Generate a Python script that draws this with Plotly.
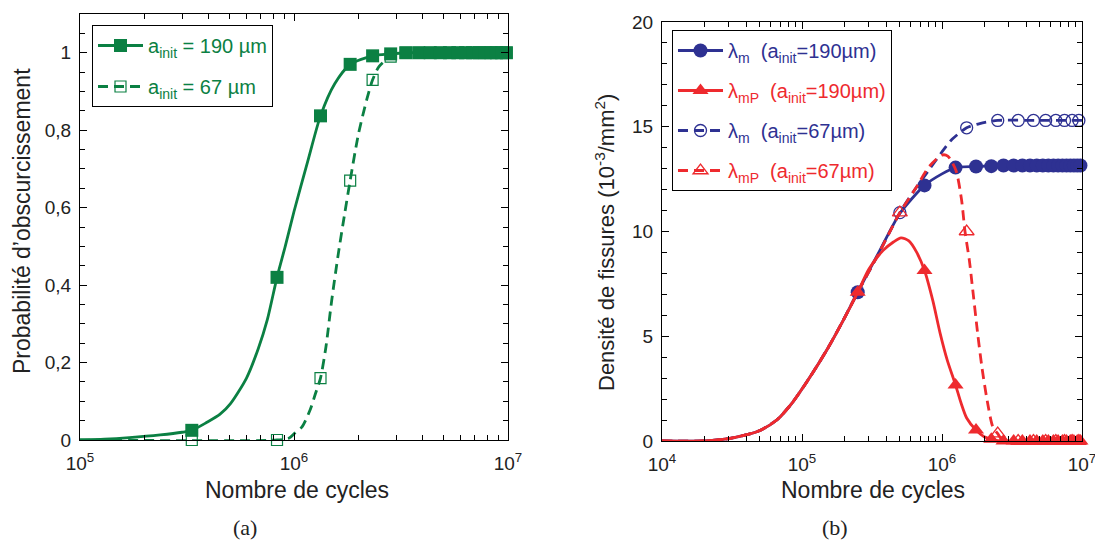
import plotly.graph_objects as go

GREEN = "#0b8043"
BLUE = "#2e3192"
RED = "#ee2a2e"

# ---------------- Panel (a) data ----------------
a_x_190 = [1.0e5, 1.3e5, 1.7e5, 2.37e5, 3.0e5, 3.33e5, 3.9e5, 4.5e5, 5.05e5, 6.0e5, 6.8e5, 7.5e5,
           8.33e5, 9.1e5, 1.0e6, 1.16e6, 1.33e6, 1.55e6, 1.83e6, 2.33e6, 2.83e6, 3.33e6, 5.0e6, 1.0e7]
a_y_190 = [0.0, 0.002, 0.006, 0.013, 0.02, 0.025, 0.045, 0.066, 0.094, 0.16, 0.235, 0.31,
           0.42, 0.50, 0.59, 0.72, 0.837, 0.92, 0.97, 0.992, 0.997, 1.0, 1.0, 1.0]

a_x_67 = [1.0e5, 8.33e5, 9.5e5, 1.01e6, 1.09e6, 1.19e6, 1.26e6, 1.33e6, 1.41e6, 1.5e6, 1.61e6,
          1.72e6, 1.83e6, 2.0e6, 2.19e6, 2.33e6, 2.5e6, 2.83e6, 3.33e6, 5.0e6, 1.0e7]
a_y_67 = [0.0, 0.0, 0.005, 0.018, 0.034, 0.078, 0.12, 0.16, 0.24, 0.36, 0.48,
          0.58, 0.67, 0.79, 0.88, 0.93, 0.965, 0.99, 1.0, 1.0, 1.0]

a_mk_x = [3.33e5, 8.33e5, 1.33e6, 1.83e6, 2.33e6, 2.83e6, 3.33e6, 3.83e6, 4.33e6, 4.83e6,
          5.33e6, 5.83e6, 6.33e6, 6.83e6, 7.33e6, 7.83e6, 8.33e6, 8.83e6, 9.33e6, 9.83e6]
a_mk_190 = [0.025, 0.42, 0.837, 0.97, 0.992, 0.997, 1.0, 1.0, 1.0, 1.0,
            1.0, 1.0, 1.0, 1.0, 1.0, 1.0, 1.0, 1.0, 1.0, 1.0]
a_mk_67 = [0.0, 0.0, 0.16, 0.67, 0.93, 0.99, 1.0, 1.0, 1.0, 1.0,
           1.0, 1.0, 1.0, 1.0, 1.0, 1.0, 1.0, 1.0, 1.0, 1.0]

# ---------------- Panel (b) data ----------------
b_x_m190 = [1e4, 2e4, 2.9e4, 4.05e4, 5e4, 6.6e4, 8.6e4, 1.14e5, 1.5e5, 1.97e5, 2.5e5, 3.6e5,
            5e5, 7.5e5, 1.0e6, 1.25e6, 1.75e6, 2.5e6, 5e6, 1e7]
b_y_m190 = [0, 0, 0.1, 0.3, 0.5, 1.0, 1.86, 3.05, 4.33, 5.76, 7.1, 9.1,
            10.86, 12.2, 12.75, 13.05, 13.1, 13.15, 13.15, 13.15]

b_x_mP190 = [1e4, 2e4, 2.9e4, 4.05e4, 5e4, 6.6e4, 8.6e4, 1.14e5, 1.5e5, 1.97e5, 2.5e5, 3.0e5,
             3.8e5, 4.5e5, 5.1e5, 5.8e5, 6.6e5, 7.5e5, 8.6e5, 9.7e5, 1.09e6, 1.25e6, 1.37e6,
             1.5e6, 1.75e6, 2.0e6, 2.25e6, 2.6e6, 5e6, 1e7]
b_y_mP190 = [0, 0, 0.1, 0.3, 0.5, 1.0, 1.86, 3.05, 4.33, 5.76, 7.1, 8.2,
             9.1, 9.5, 9.7, 9.55, 9.0, 8.14, 6.7, 5.14, 3.86, 2.67, 1.8,
             1.1, 0.52, 0.2, 0.08, 0, 0, 0]

b_x_m67 = [1e4, 2e4, 2.9e4, 4.05e4, 5e4, 6.6e4, 8.6e4, 1.14e5, 1.5e5, 1.97e5, 2.5e5, 3.5e5,
           5e5, 6.4e5, 8e5, 1.0e6, 1.18e6, 1.5e6, 1.86e6, 2.5e6, 5e6, 1e7]
b_y_m67 = [0, 0, 0.1, 0.3, 0.5, 1.0, 1.86, 3.05, 4.33, 5.76, 7.1, 8.9,
           10.9, 12.0, 12.9, 13.8, 14.4, 14.95, 15.15, 15.3, 15.3, 15.3]

b_x_mP67 = [1e4, 2e4, 2.9e4, 4.05e4, 5e4, 6.6e4, 8.6e4, 1.14e5, 1.5e5, 1.97e5, 2.5e5, 3.5e5,
            5e5, 6.4e5, 8.1e5, 1.0e6, 1.1e6, 1.26e6, 1.38e6, 1.46e6, 1.57e6, 1.64e6, 1.8e6,
            1.93e6, 2.1e6, 2.3e6, 2.5e6, 2.75e6, 5e6, 1e7]
b_y_mP67 = [0, 0, 0.1, 0.3, 0.5, 1.0, 1.86, 3.05, 4.33, 5.76, 7.1, 8.9,
            10.9, 12.0, 13.1, 13.65, 13.6, 12.9, 11.5, 10.0, 8.6, 7.5, 5.1,
            3.5, 1.95, 0.7, 0.35, 0, 0, 0]

b_mk_x190 = [2.5e5, 7.5e5, 1.25e6, 1.75e6, 2.25e6, 2.75e6, 3.25e6, 3.75e6, 4.25e6, 4.75e6,
             5.25e6, 5.75e6, 6.25e6, 6.75e6, 7.25e6, 7.75e6, 8.25e6, 8.75e6, 9.25e6, 9.75e6]
b_mk_m190 = [7.1, 12.2, 13.05, 13.1, 13.12, 13.15, 13.15, 13.15, 13.15, 13.15,
             13.15, 13.15, 13.15, 13.15, 13.15, 13.15, 13.15, 13.15, 13.15, 13.15]
b_mk_mP190 = [7.1, 8.14, 2.67, 0.52, 0.08, 0, 0, 0, 0, 0,
              0, 0, 0, 0, 0, 0, 0, 0, 0, 0]
b_mk_x67 = [5e5, 1.5e6, 2.5e6, 3.5e6, 4.5e6, 5.5e6, 6.5e6, 7.5e6, 8.5e6, 9.5e6]
b_mk_m67 = [10.9, 14.95, 15.3, 15.3, 15.3, 15.3, 15.3, 15.3, 15.3, 15.3]
b_mk_mP67 = [10.9, 10.0, 0.35, 0, 0, 0, 0, 0, 0, 0]

a_xticks = [1e5, 1e6, 1e7]
a_xtext = ["10<sup>5</sup>", "10<sup>6</sup>", "10<sup>7</sup>"]
a_yticks = [0, 0.2, 0.4, 0.6, 0.8, 1.0]
a_ytext = ["0", "0,2", "0,4", "0,6", "0,8", "1"]
b_xticks = [1e4, 1e5, 1e6, 1e7]
b_xtext = ["10<sup>4</sup>", "10<sup>5</sup>", "10<sup>6</sup>", "10<sup>7</sup>"]
b_yticks = [0, 5, 10, 15, 20]

W, H = 1095, 546
FONT = "Arial, Liberation Sans, Helvetica, sans-serif"
SERIF = "Times New Roman, Liberation Serif, serif"

def px_x(p):
    return p / W

def px_y(p):
    return 1 - p / H

fig = go.Figure()

DASH = "10px,6px"
LW = 2.8

def line(x, y, color, dash, xa, ya):
    fig.add_trace(go.Scatter(x=x, y=y, mode="lines", xaxis=xa, yaxis=ya, showlegend=False,
                             line=dict(color=color, width=LW, dash=dash,
                                       shape="spline", smoothing=0.7),
                             hoverinfo="skip"))

def marks(x, y, color, symbol, size, xa, ya, lw=1.2):
    fig.add_trace(go.Scatter(x=x, y=y, mode="markers", xaxis=xa, yaxis=ya, showlegend=False,
                             cliponaxis=False, hoverinfo="skip",
                             marker=dict(color=color, symbol=symbol, size=size,
                                         line=dict(color=color, width=lw))))

def legend_entry(name, color, dash, symbol, size, legend, group, lw=1.2):
    fig.add_trace(go.Scatter(x=[None], y=[None], mode="lines+markers", name=name,
                             legend=legend, legendgroup=group,
                             line=dict(color=color, width=LW, dash=dash),
                             marker=dict(color=color, symbol=symbol, size=size,
                                         line=dict(color=color, width=lw))))

# Panel (a)
line(a_x_67, a_y_67, GREEN, DASH, "x", "y")
marks(a_mk_x, a_mk_67, GREEN, "square-open", 11, "x", "y", 1.2)
line(a_x_190, a_y_190, GREEN, "solid", "x", "y")
marks(a_mk_x, a_mk_190, GREEN, "square", 13, "x", "y", 0)

# Panel (b)
line(b_x_m67, b_y_m67, BLUE, DASH, "x2", "y2")
marks(b_mk_x67, b_mk_m67, BLUE, "circle-open", 12, "x2", "y2", 1.3)
line(b_x_m190, b_y_m190, BLUE, "solid", "x2", "y2")
marks(b_mk_x190, b_mk_m190, BLUE, "circle", 14, "x2", "y2", 0)
line(b_x_mP67, b_y_mP67, RED, DASH, "x2", "y2")
marks(b_mk_x67, b_mk_mP67, RED, "triangle-up-open", 13, "x2", "y2", 1.3)
line(b_x_mP190, b_y_mP190, RED, "solid", "x2", "y2")
marks(b_mk_x190, b_mk_mP190, RED, "triangle-up", 14, "x2", "y2", 0)

# Legends
legend_entry("a<sub>init</sub> = 190 µm", GREEN, "solid", "square", 13, "legend", "g1", 0)
legend_entry("a<sub>init</sub> = 67 µm", GREEN, DASH, "square-open", 11, "legend", "g2")
legend_entry("<span style='color:%s'>λ<sub>m</sub>  (a<sub>init</sub>=190µm)</span>" % BLUE,
             BLUE, "solid", "circle", 14, "legend2", "b1", 0)
legend_entry("<span style='color:%s'>λ<sub>mP</sub>  (a<sub>init</sub>=190µm)</span>" % RED,
             RED, "solid", "triangle-up", 14, "legend2", "b2", 0)
legend_entry("<span style='color:%s'>λ<sub>m</sub>  (a<sub>init</sub>=67µm)</span>" % BLUE,
             BLUE, DASH, "circle-open", 12, "legend2", "b3", 1.3)
legend_entry("<span style='color:%s'>λ<sub>mP</sub>  (a<sub>init</sub>=67µm)</span>" % RED,
             RED, DASH, "triangle-up-open", 13, "legend2", "b4", 1.3)

axis_common = dict(showline=True, linecolor="black", linewidth=1, mirror="allticks",
                   ticks="inside", ticklen=7, tickcolor="black", showgrid=False, zeroline=False,
                   automargin=False, ticklabeloverflow="allow",
                   tickfont=dict(family=FONT, size=19, color="#222"))

a_minor_x = [2e5, 3e5, 4e5, 5e5, 6e5, 7e5, 8e5, 9e5, 2e6, 3e6, 4e6, 5e6, 6e6, 7e6, 8e6, 9e6]
b_minor_x = [2e4, 3e4, 4e4, 5e4, 6e4, 7e4, 8e4, 9e4, 2e5, 3e5, 4e5, 5e5, 6e5, 7e5, 8e5, 9e5,
             2e6, 3e6, 4e6, 5e6, 6e6, 7e6, 8e6, 9e6]

def ann(text, x, y, size, family=FONT, angle=0):
    return dict(text=text, x=px_x(x), y=px_y(y), xref="paper", yref="paper",
                xanchor="center", yanchor="middle", showarrow=False, textangle=angle,
                font=dict(family=family, size=size, color="#222"))

fig.update_layout(
    width=W, height=H, paper_bgcolor="white", plot_bgcolor="white",
    margin=dict(l=0, r=0, t=0, b=0, autoexpand=False),
    font=dict(family=FONT, color="#222"),
    hovermode=False,
    xaxis=dict(axis_common, type="log", range=[5, 7], domain=[px_x(80), px_x(508)],
               tickmode="array", tickvals=a_xticks, ticktext=a_xtext, anchor="y",
               ticklabelstandoff=6,
               minor=dict(ticks="inside", ticklen=5, tickcolor="black", tickmode="array",
                          tickvals=a_minor_x)),
    yaxis=dict(axis_common, range=[0, 1.1], domain=[px_y(440), px_y(14)],
               tickmode="array", tickvals=a_yticks, ticktext=a_ytext, anchor="x",
               ticklabelstandoff=4,
               minor=dict(ticks="inside", ticklen=5, tickcolor="black", dtick=0.05, tick0=0)),
    xaxis2=dict(axis_common, type="log", range=[4, 7], domain=[px_x(662), px_x(1082)],
                tickmode="array", tickvals=b_xticks, ticktext=b_xtext, anchor="y2",
                ticklabelstandoff=6,
                minor=dict(ticks="inside", ticklen=5, tickcolor="black", tickmode="array",
                           tickvals=b_minor_x)),
    yaxis2=dict(axis_common, range=[0, 20], domain=[px_y(441), px_y(22)],
                tickmode="array", tickvals=b_yticks, anchor="x2",
                ticklabelstandoff=4,
                minor=dict(ticks="inside", ticklen=5, tickcolor="black", dtick=1, tick0=0)),
    legend=dict(x=px_x(92), y=px_y(25), xanchor="left", yanchor="top",
                bordercolor="black", borderwidth=1, bgcolor="white",
                font=dict(family=FONT, size=20, color=GREEN), tracegroupgap=12,
                itemwidth=45),
    legend2=dict(x=px_x(672), y=px_y(30), xanchor="left", yanchor="top",
                 bordercolor="black", borderwidth=1, bgcolor="white",
                 font=dict(family=FONT, size=20, color=BLUE), tracegroupgap=11,
                 itemwidth=45),
    annotations=[
        ann("Nombre de cycles", 297, 490, 23),
        ann("Nombre de cycles", 873, 490, 23),
        ann("Probabilité d’obscurcissement", 22, 221, 23, angle=-90),
        ann("Densité de fissures (10<sup>-3</sup>/mm<sup>2</sup>)", 605, 243, 22, angle=-90),
        ann("(a)", 245, 527, 22, family=SERIF),
        ann("(b)", 835, 527, 22, family=SERIF),
    ],
)

# remove the page's default 8px body margin so the figure sits at the window's corner
fig.write_html("out.html", config={"displayModeBar": False},
               post_script="document.body.style.margin='0';document.body.style.overflow='hidden';")
